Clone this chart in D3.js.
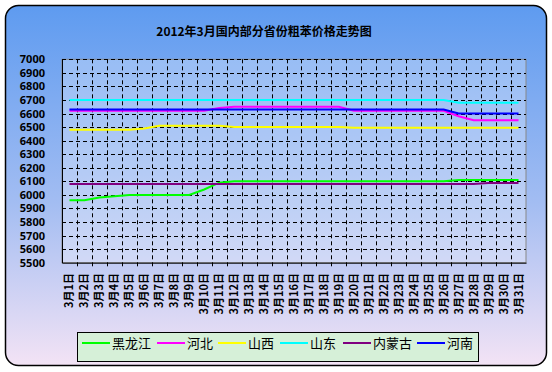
<!DOCTYPE html>
<html>
<head>
<meta charset="utf-8">
<script src="https://cdn.jsdelivr.net/npm/d3@7"></script>
<style>
  body { margin: 0; background: #fff; }
  text { font-family: "Noto Sans CJK SC", "Noto Sans", sans-serif; }
</style>
</head>
<body>
<div id="chart"></div>
<script>
    const days = d3.range(1, 32).map(function(d) { return "3月" + d + "日"; });
    const provinces = ["黑龙江", "河北", "山西", "山东", "内蒙古", "河南"];
    const colors = ["#00ff00", "#ff00ff", "#ffff00", "#00ffff", "#800080", "#0000ff"];

    // prices per day, 3/1 .. 3/31
    const heilongjiang = [5960,5960,5980,5990,6000,6000,6000,6000,6000,6040,6090,6100,6100,6100,6100,6100,6100,6100,6100,6100,6100,6100,6100,6100,6100,6100,6110,6110,6110,6110,6110];
    const hebei = [6620,6620,6620,6620,6620,6620,6620,6620,6620,6620,6640,6650,6650,6650,6650,6650,6650,6650,6650,6620,6620,6620,6620,6620,6620,6620,6580,6550,6550,6550,6550];
    const shanxi = [6480,6480,6480,6480,6480,6490,6510,6510,6510,6510,6510,6500,6500,6500,6500,6500,6500,6500,6500,6495,6495,6495,6495,6495,6495,6495,6495,6495,6495,6495,6495];
    const shandong = [6700,6700,6700,6700,6700,6700,6700,6700,6700,6700,6700,6700,6700,6700,6700,6700,6700,6700,6700,6700,6700,6700,6700,6700,6700,6700,6680,6680,6680,6680,6680];
    const neimenggu = [6080,6080,6080,6080,6080,6080,6080,6080,6080,6080,6080,6080,6080,6080,6080,6080,6080,6080,6080,6080,6080,6080,6080,6080,6080,6080,6080,6080,6088,6088,6088];
    const henan = [6630,6630,6630,6630,6630,6630,6630,6630,6630,6630,6630,6630,6630,6630,6630,6630,6630,6630,6630,6630,6630,6630,6630,6630,6630,6630,6600,6600,6600,6600,6600];
    const series = [heilongjiang, hebei, shanxi, shandong, neimenggu, henan];
    const yTicks = d3.range(5500, 7001, 100);

    const width = 552;
    const height = 372;
    const plot = {left: 62, right: 526, top: 59.3, bottom: 262.7};

    const viz = d3.select("#chart")
        .append("svg")
        .attr("width", width)
        .attr("height", height);

    const defs = viz.append("defs");
    const bg = defs.append("linearGradient")
        .attr("id", "bg")
        .attr("x1", 0).attr("y1", 0).attr("x2", 0).attr("y2", 1);
    bg.append("stop").attr("offset", "0%").attr("stop-color", "#5e9bf0");
    bg.append("stop").attr("offset", "55%").attr("stop-color", "#a3bdf2");
    bg.append("stop").attr("offset", "100%").attr("stop-color", "#f3e3f5");

    // outer frame
    viz.append("rect")
        .attr("x", 5.5).attr("y", 5.5)
        .attr("width", 541).attr("height", 360)
        .attr("rx", 13)
        .attr("fill", "url(#bg)")
        .attr("stroke", "#000")
        .attr("stroke-width", 1.5);

    // title
    viz.append("text")
        .attr("x", 264)
        .attr("y", 36)
        .attr("text-anchor", "middle")
        .attr("font-size", 12)
        .attr("font-weight", "bold")
        .text("2012年3月国内部分省份粗苯价格走势图");

    // Scales
    const xScale = d3.scaleBand()
        .domain(days)
        .range([plot.left, plot.right])
        .padding(0);

    const yScale = d3.scaleLinear()
        .domain([5500, 7000])
        .range([plot.bottom, plot.top]);

    // plot area
    viz.append("rect")
        .attr("x", plot.left).attr("y", plot.top)
        .attr("width", plot.right - plot.left)
        .attr("height", plot.bottom - plot.top)
        .attr("fill", "#ffffff")
        .attr("fill-opacity", 0.28)
        .attr("stroke", "#888")
        .attr("stroke-width", 1);

    // grid
    viz.append("g")
        .selectAll("line")
        .data(yTicks.slice(1))
        .enter()
        .append("line")
            .attr("x1", plot.left)
            .attr("x2", plot.right)
            .attr("y1", function(d) { return Math.round(yScale(d)) + 0.5; })
            .attr("y2", function(d) { return Math.round(yScale(d)) + 0.5; })
            .attr("stroke", "#000")
            .attr("stroke-dasharray", "4,3");

    viz.append("g")
        .selectAll("line")
        .data(days.slice(1))
        .enter()
        .append("line")
            .attr("x1", function(d) { return Math.round(xScale(d)) + 0.5; })
            .attr("x2", function(d) { return Math.round(xScale(d)) + 0.5; })
            .attr("y1", plot.top)
            .attr("y2", plot.bottom + 4)
            .attr("stroke", "#000")
            .attr("stroke-dasharray", "4,3");

    // Axes
    const yAxis = viz.append("g")
        .attr("transform", `translate(${plot.left},0)`)
        .call(d3.axisLeft(yScale).tickValues(yTicks).tickSize(0).tickPadding(17).tickFormat(d3.format("d")));
    yAxis.select(".domain").attr("stroke", "#000");
    yAxis.selectAll("text")
        .attr("font-size", 11)
        .attr("font-weight", "bold")
        .attr("fill", "#000")
        .style("font-family", "'Noto Sans', sans-serif");

    const xAxis = viz.append("g")
        .attr("transform", `translate(0,${plot.bottom})`)
        .call(d3.axisBottom(xScale).tickSize(0).tickFormat(""));
    xAxis.select(".domain").attr("stroke", "#000");

    viz.append("g")
        .selectAll("text")
        .data(days)
        .enter()
        .append("text")
            .attr("transform", function(d) {
                return `translate(${xScale(d) + xScale.bandwidth() / 2 + 4},273) rotate(-90)`;
            })
            .attr("text-anchor", "end")
            .attr("font-size", 11)
            .attr("font-weight", "bold")
            .text(function(d) { return d; });

    // Marks
    const line = d3.line()
        .x(function(d, i) { return xScale(days[i]) + xScale.bandwidth() / 2; })
        .y(function(d) { return yScale(d); });

    viz.append("g")
        .selectAll("path")
        .data(series)
        .enter()
        .append("path")
            .attr("d", line)
            .attr("fill", "none")
            .attr("stroke", function(d, i) { return colors[i]; })
            .attr("stroke-width", 2);

    // Legend
    const legend = viz.append("g");
    legend.append("rect")
        .attr("x", 77.5).attr("y", 332.5)
        .attr("width", 401).attr("height", 29)
        .attr("fill", "#d6f0d8")
        .attr("stroke", "#000");

    const legendX = [82, 157, 218, 280, 343, 417];
    const items = legend.selectAll("g.item")
        .data(provinces)
        .enter()
        .append("g")
        .attr("class", "item")
        .attr("transform", function(d, i) { return `translate(${legendX[i]},343)`; });
    items.append("line")
        .attr("x1", 0).attr("x2", 28)
        .attr("stroke", function(d, i) { return colors[i]; })
        .attr("stroke-width", 2);
    items.append("text")
        .attr("x", 30)
        .attr("y", 4.5)
        .attr("font-size", 13)
        .text(function(d) { return d; });
</script>
</body>
</html>
